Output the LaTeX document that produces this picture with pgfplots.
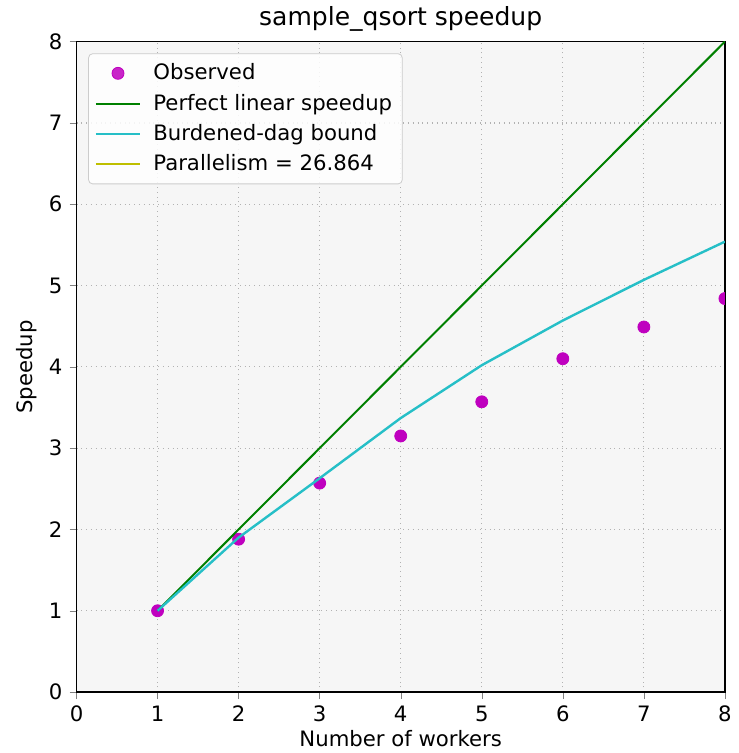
\documentclass[border=0pt]{standalone}
\usepackage{fontspec}
\setmainfont{DejaVu Sans}
\usepackage{pgfplots}
\pgfplotsset{compat=1.18}
\definecolor{mplg}{rgb}{0,0.5,0}
\definecolor{mplc}{rgb}{0.15,0.75,0.78}
\definecolor{mplm}{rgb}{0.75,0,0.75}
\definecolor{mply}{rgb}{0.75,0.75,0}
\definecolor{bgface}{RGB}{246,246,246}
\pgfplotsset{
    lineleg/.style={legend image code/.code={\draw[##1] (0cm,0cm) -- (0.78cm,0cm);}},
    markleg/.style={legend image code/.code={\draw[mark repeat=2,mark phase=2,##1] plot coordinates {(0cm,0cm)(0.39cm,0cm)(0.78cm,0cm)};}},
}
\begin{document}
\begin{tikzpicture}
\begin{axis}[
    width=324pt, height=325pt, scale only axis,
    xmin=0, xmax=8, ymin=0, ymax=8,
    xtick={0,...,8}, ytick={0,...,8},
    tick align=outside, tick pos=left,
    major tick length=3.5pt,
    /pgf/number format/assume math mode=true,
    tick label style={font=\fontsize{10.6}{12}\selectfont},
    label style={font=\fontsize{10.6}{12}\selectfont},
    title style={font=\fontsize{12.5}{14}\selectfont, yshift=-4.5pt},
    title={sample\_qsort speedup},
    xlabel={Number of workers},
    ylabel={Speedup},
    xlabel style={yshift=3pt},
    ylabel style={yshift=-1pt},
    grid=major,
    major grid style={gray!60, dotted, line width=0.6pt},
    axis background/.style={fill=bgface},
    axis line style={line width=0.6pt},
    clip marker paths=true,
    legend cell align=left,
    legend style={font=\fontsize{10.6}{12}\selectfont, draw=gray!40, rounded corners=2pt,
        fill=white, fill opacity=0.85, text opacity=1, row sep=1.6pt,
        at={(0.018,0.982)}, anchor=north west, inner xsep=3pt, inner ysep=3pt,
        /tikz/every odd column/.append style={column sep=4pt}},
]
\addplot[only marks, mark=*, mark size=3pt, mplm, mark options={fill=mplm, draw=mplm}, markleg]
    coordinates {(1,1.00) (2,1.88) (3,2.57) (4,3.15) (5,3.57) (6,4.10) (7,4.49) (8,4.84)};
\addlegendentry{Observed}
\addplot[mplg, line width=1pt, lineleg]
    coordinates {(1,1) (2,2) (3,3) (4,4) (5,5) (6,6) (7,7) (8,8)};
\addlegendentry{Perfect linear speedup}
\addplot[mplc, line width=1.2pt, lineleg]
    coordinates {(1,1.00) (2,1.90) (3,2.63) (4,3.37) (5,4.02) (6,4.57) (7,5.07) (8,5.54)};
\addlegendentry{Burdened-dag bound}
\addplot[mply, line width=1pt, lineleg]
    coordinates {(1,26.864) (8,26.864)};
\addlegendentry{Parallelism = 26.864}
\end{axis}
\path (current bounding box.west) ++(-5pt,0);
\end{tikzpicture}
\end{document}
